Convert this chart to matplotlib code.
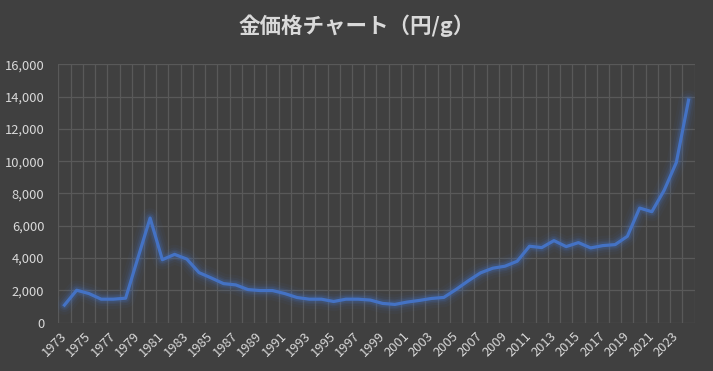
import numpy as np
import matplotlib.pyplot as plt
from matplotlib.ticker import FuncFormatter

plt.rcParams['font.family'] = ['Noto Sans CJK JP', 'DejaVu Sans']

# 年ごとの金価格（円/g）
years = list(range(1973, 2025))
prices = [1090, 2010, 1805, 1456, 1456, 1518, 4000, 6480, 3900, 4230,
          3940, 3100, 2770, 2420, 2340, 2050, 1990, 1990, 1805, 1560,
          1456, 1456, 1313, 1456, 1456, 1400, 1193, 1132, 1276, 1379,
          1502, 1564, 2058, 2593, 3086, 3374, 3498, 3807, 4733, 4650,
          5082, 4712, 4959, 4630, 4774, 4835, 5350, 7099, 6872, 8189,
          9918, 13786]

bg = '#404040'
txt = '#d9d9d9'

fig = plt.figure(figsize=(7.13, 3.71), dpi=100, facecolor=bg)
ax = fig.add_axes([0.0818, 0.1302, 0.8925, 0.6965], facecolor=bg)

x = np.arange(len(years))

# glow behind the line
for w, a in [(14, 0.05), (10, 0.08), (7, 0.12), (5, 0.18)]:
    ax.plot(x, prices, color='#4472C4', lw=w, alpha=a, solid_capstyle='round',
            solid_joinstyle='round')
ax.plot(x, prices, color='#4472C4', lw=2.3, solid_joinstyle='round', zorder=3)

ax.set_xlim(-0.5, len(years) - 0.5)
ax.set_ylim(0, 16000)
ax.set_yticks(range(0, 16001, 2000))
ax.yaxis.set_major_formatter(FuncFormatter(lambda v, p: f'{int(v):,}'))

ax.set_xticks(x[::2])
ax.set_xticklabels([str(y) for y in years[::2]], rotation=45, ha='right',
                   va='center', rotation_mode='anchor')
ax.set_xticks(np.arange(-0.5, len(years), 1), minor=True)

ax.grid(axis='y', which='major', color='#595959', lw=0.9)
ax.grid(axis='x', which='minor', color='#595959', lw=0.9)
ax.set_axisbelow(True)

ax.tick_params(axis='both', which='both', length=0, colors=txt, labelsize=9.3)
ax.tick_params(axis='x', pad=8)
ax.tick_params(axis='y', pad=10)
for s in ax.spines.values():
    s.set_visible(False)

fig.text(0.5, 0.93, '金価格チャート（円/g）', ha='center', va='center',
         color=txt, fontsize=15.5, fontweight='bold')

fig.savefig('out.png', dpi=100, facecolor=bg)
